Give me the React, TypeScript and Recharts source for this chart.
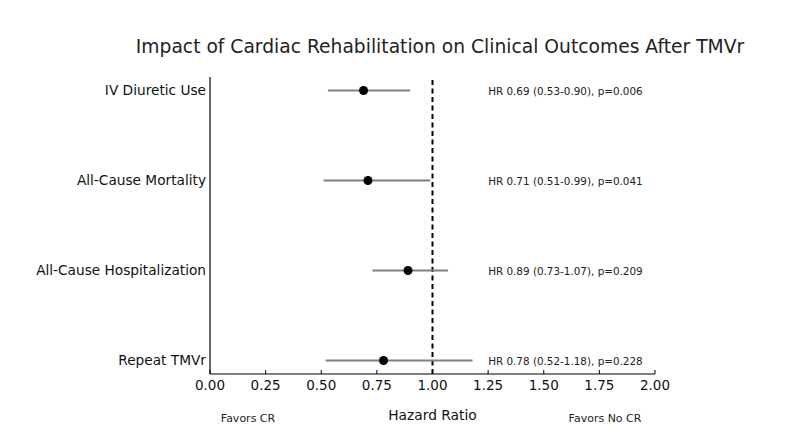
import React from 'react';
import {
  ComposedChart,
  Scatter,
  ErrorBar,
  XAxis,
  YAxis,
  ReferenceLine,
} from 'recharts';

const outcomes = ['IV Diuretic Use', 'All-Cause Mortality', 'All-Cause Hospitalization', 'Repeat TMVr'];
const hazardRatios = [0.69, 0.71, 0.89, 0.78];
const lowerCI = [0.53, 0.51, 0.73, 0.52];
const upperCI = [0.9, 0.99, 1.07, 1.18];
const pValues = ['0.006', '0.041', '0.209', '0.228'];
const xTicks = [0, 0.25, 0.5, 0.75, 1, 1.25, 1.5, 1.75, 2];
const labelX = 1.25;

const FONT = '"DejaVu Sans", Verdana, sans-serif';

// bottom row is index 0 on the numeric y axis
const rows = outcomes.map((name, i) => ({
  name,
  x: hazardRatios[i],
  y: outcomes.length - 1 - i,
  err: [hazardRatios[i] - lowerCI[i], upperCI[i] - hazardRatios[i]],
}));

const notes = outcomes.map((_, i) => ({
  x: labelX,
  y: outcomes.length - 1 - i,
  text: `HR ${hazardRatios[i].toFixed(2)} (${lowerCI[i].toFixed(2)}-${upperCI[i].toFixed(2)}), p=${pValues[i]}`,
}));

const yLabel = (v: number) => outcomes[outcomes.length - 1 - v] ?? '';

function AxisFooter(props: any) {
  const { x, y, width } = props.viewBox;
  return (
    <g fontFamily={FONT}>
      <text x={x + width / 2} y={y + 41} textAnchor="middle" dominantBaseline="central" fontSize={13.8} fill="#111">
        Hazard Ratio
      </text>
      <text x={x + 38} y={y + 44} textAnchor="middle" dominantBaseline="central" fontSize={11} fill="#222">
        Favors CR
      </text>
      <text x={x + 395} y={y + 44} textAnchor="middle" dominantBaseline="central" fontSize={11} fill="#222">
        Favors No CR
      </text>
    </g>
  );
}

export default function App() {
  return (
    <div style={{ position: 'absolute', left: 0, top: 0, width: 786, height: 442, fontFamily: FONT, background: '#fff' }}>
      <div
        style={{
          position: 'absolute',
          left: 0,
          top: 36,
          width: 880,
          textAlign: 'center',
          fontSize: 18.7,
          color: '#222',
        }}
      >
        Impact of Cardiac Rehabilitation on Clinical Outcomes After TMVr
      </div>
      <ComposedChart width={786} height={442} margin={{ top: 77, right: 131, bottom: 8, left: 0 }}>
        <XAxis
          type="number"
          dataKey="x"
          domain={[0, 2]}
          ticks={xTicks}
          tickFormatter={(v: number) => v.toFixed(2)}
          allowDataOverflow
          height={60}
          tickSize={-4}
          tickMargin={10}
          tick={{ fontSize: 13.5, fill: '#111' }}
          axisLine={{ stroke: '#000', strokeWidth: 1.2 }}
          tickLine={{ stroke: '#000' }}
          label={<AxisFooter />}
        />
        <YAxis
          type="number"
          dataKey="y"
          domain={[-0.15, 3.15]}
          ticks={[0, 1, 2, 3]}
          tickFormatter={yLabel}
          width={210}
          tickSize={0}
          tickMargin={4}
          tickLine={false}
          tick={{ fontSize: 13.7, fill: '#111' }}
          axisLine={{ stroke: '#000', strokeWidth: 1.2 }}
        />
        <ReferenceLine x={1} stroke="#000" strokeWidth={2} strokeDasharray="5 3.5" />
        <Scatter
          data={rows}
          isAnimationActive={false}
          shape={(p: any) => <circle cx={p.cx} cy={p.cy} r={4.5} fill="#000" />}
        >
          <ErrorBar dataKey="err" direction="x" width={0} stroke="#808080" strokeWidth={1.8} />
        </Scatter>
        <Scatter
          data={notes}
          isAnimationActive={false}
          shape={(p: any) => (
            <text x={p.cx} y={p.cy} dominantBaseline="central" fontSize={10.4} fill="#222" fontFamily={FONT}>
              {p.payload.text}
            </text>
          )}
        />
      </ComposedChart>
    </div>
  );
}
